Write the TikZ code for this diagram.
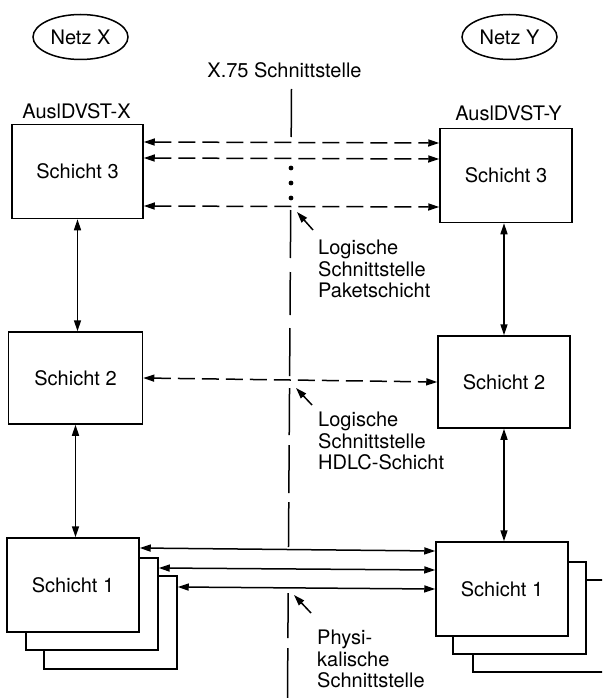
\documentclass[tikz,border=0pt]{standalone}
\usepackage{fontspec}
\setmainfont{TeX Gyre Heros}
\usetikzlibrary{arrows.meta,shapes.geometric}
\begin{document}
\begin{tikzpicture}[x=1pt,y=-1pt,
  every node/.style={font=\fontsize{20}{21.5}\selectfont},
  box/.style={draw,line width=1.5pt,fill=white,minimum width=131pt,minimum height=94pt,inner sep=0pt},
  ln/.style={line width=1.5pt},
  tip/.style={-{Triangle[length=11pt,width=7pt]}},
  both/.style={{Triangle[length=11pt,width=7pt]}-{Triangle[length=11pt,width=7pt]}},
  dsh/.style={dash pattern=on 17pt off 7pt},
  lbl/.style={align=left,anchor=north west,inner sep=0pt}]
\clip (0,0) rectangle (602,698);
\fill[white] (0,0) rectangle (602,698);

% network ellipses and titles
\node[ellipse,draw,ln,minimum width=95pt,minimum height=45pt,inner sep=0pt] (nx) at (80.5,37) {Netz X};
\node[ellipse,draw,ln,minimum width=95pt,minimum height=45pt,inner sep=0pt] (ny) at (509.5,37) {Netz Y};
\node (x75) at (284.5,70) {X.75 Schnittstelle};
\node (ax) at (76.5,111) {AuslDVST-X};
\node (ay) at (508.5,113) {AuslDVST-Y};

% layer boxes
\node[box] (l3) at (77.5,171.5) {Schicht 3};
\node[box,minimum width=132pt] (r3) at (506,175.5) {Schicht 3};
\node[box,minimum width=134pt,minimum height=92pt] (l2) at (75.5,378) {Schicht 2};
\node[box,minimum width=132pt,minimum height=92pt] (r2) at (504,382) {Schicht 2};

\node[box,minimum width=133pt,minimum height=93pt] (l1c) at (110.5,622.5) {};
\node[box,minimum width=132pt,minimum height=92pt] (l1b) at (92,604) {};
\node[box,minimum width=132pt] (l1) at (73,585) {Schicht 1};

\node[box,minimum width=140pt,minimum height=92pt] (r1c) at (543,626) {};
\node[box,minimum width=133pt,minimum height=92pt] (r1b) at (519.5,608) {};
\node[box,minimum width=132pt] (r1) at (502,589) {Schicht 1};

% interface line (slightly slanted, as in the scan)
\foreach \a/\b in {89/137,210/258,272/315,328/376,388/435,445/493,502/547,593/638,648/698}
  \draw[ln] ({291.5-4*(\a-89)/609},\a) -- ({291.5-4*(\b-89)/609},\b);
\foreach \yy in {168,183,198} \fill (291,\yy) circle (2.4);

% layer 3 (dashed)
\draw[ln,dsh,both] (l3.east |- 0,142) -- (r3.west |- 0,143);
\draw[ln,dsh,both] (l3.east |- 0,158) -- (r3.west |- 0,159);
\draw[ln,dsh,both] (l3.east |- 0,206) -- (r3.west |- 0,207);
% layer 2 (dashed)
\draw[ln,dsh,both] (l2.east) -- (r2.west);
% layer 1 (solid)
\draw[ln,both] (l1.east |- 0,548) -- (r1.west |- 0,551);
\draw[ln,both] (l1b.east |- 0,568) -- (r1.west |- 0,570);
\draw[ln,both] (l1c.east |- 0,587) -- (r1.west |- 0,589);

% vertical connections
\draw[ln,both] (l3.south) -- (l3.south |- l2.north);
\draw[ln,both] (l2.south) -- (l2.south |- l1.north);
\draw[ln,both] (r2.north |- r3.south) -- (r2.north);
\draw[ln,both] (r2.south) -- (r2.south |- r1.north);

% pointers and labels
\coordinate (p1s) at (313,230); \coordinate (p1e) at (297,212);
\coordinate (p2s) at (312,405); \coordinate (p2e) at (296,388);
\coordinate (p3s) at (311,613); \coordinate (p3e) at (294,595);
\draw[ln,tip] (p1s) -- (p1e);
\draw[ln,tip] (p2s) -- (p2e);
\draw[ln,tip] (p3s) -- (p3e);

\node[lbl] (lp) at (318,240) {Logische\\Schnittstelle\\Paketschicht};
\node[lbl] (lh) at (318,412) {Logische\\Schnittstelle\\HDLC-Schicht};
\node[lbl] (lph) at (317,630) {Physi-\\kalische\\Schnittstelle};
\end{tikzpicture}
\end{document}
